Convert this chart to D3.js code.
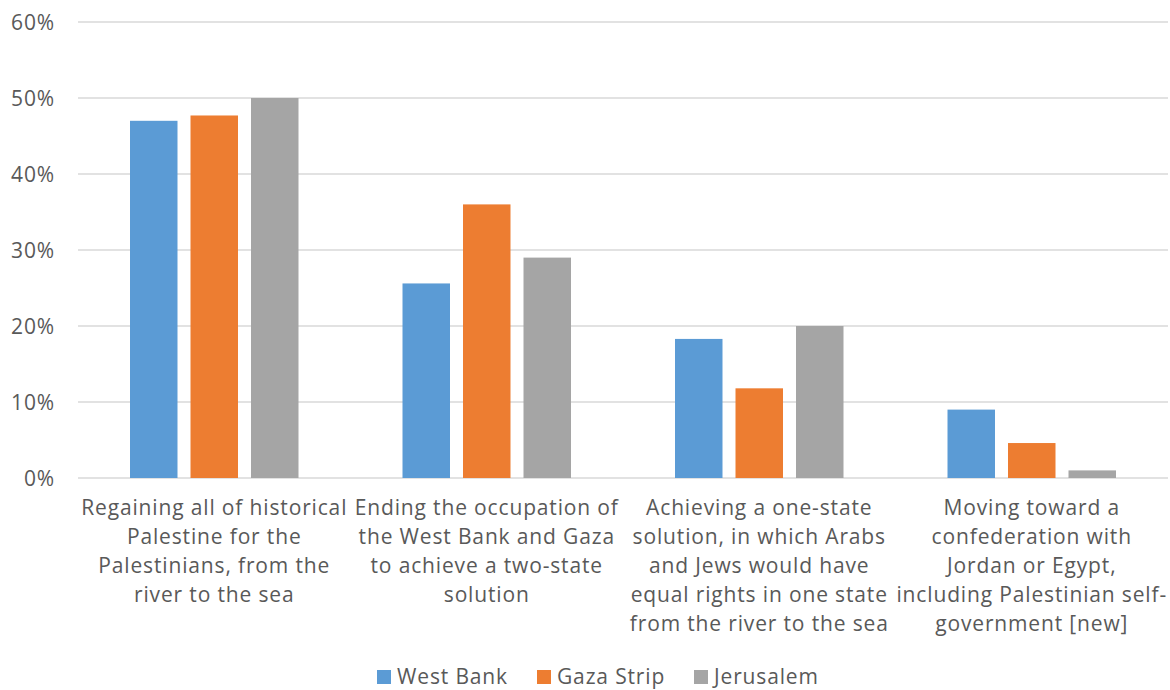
<!DOCTYPE html>
<html><head><meta charset="utf-8">
<script src="https://cdn.jsdelivr.net/npm/d3@7"></script>
<style>body{margin:0;background:#fff}svg{display:block}text{font-family:"Open Sans",Lato,sans-serif;fill:#595959}</style>
</head><body><svg id="c" width="1170" height="690"></svg>
<script>
const categories = ["c1","c2","c3","c4"];
const categoryLabels = [
  ["Regaining all of historical","Palestine for the","Palestinians, from the","river to the sea"],
  ["Ending the occupation of","the West Bank and Gaza","to achieve a two-state","solution"],
  ["Achieving a one-state","solution, in which Arabs","and Jews would have","equal rights in one state","from the river to the sea"],
  ["Moving toward a","confederation with","Jordan or Egypt,","including Palestinian self-","government [new]"]
];
const seriesNames = ["West Bank","Gaza Strip","Jerusalem"];
const westBank = [47.0, 25.6, 18.3, 9.0];
const gazaStrip = [47.7, 36.0, 11.8, 4.6];
const jerusalem = [50.0, 29.0, 20.0, 1.0];
const yTicks = [0,10,20,30,40,50,60];
const colors = ["#5B9BD5","#ED7D31","#A5A5A5"];

const seriesValues = [westBank, gazaStrip, jerusalem];
const svg = d3.select("#c");
const pL = 78, pR = 1168, pT = 22, pB = 478;
const fs = 21, ls = 0.85;
const x0 = d3.scaleBand().domain(categories).range([pL,pR]).padding(0);
const bw = x0.bandwidth();
const groupW = 181.5;
const x1 = d3.scaleBand().domain(seriesNames).range([bw/2-groupW/2, bw/2+groupW/2]).paddingInner(0.215).paddingOuter(0.1075);
const y = d3.scaleLinear().domain([0,60]).range([pB,pT]);

// gridlines
svg.append("g").selectAll("line").data(yTicks).join("line")
  .attr("x1",pL).attr("x2",pR).attr("y1",d=>y(d)).attr("y2",d=>y(d))
  .attr("stroke","#D9D9D9").attr("stroke-width",1.5);

// y axis labels
const yAxis = d3.axisLeft(y).tickValues(yTicks).tickFormat(d=>d+"%").tickSize(0).tickPadding(0);
const ya = svg.append("g").attr("transform",`translate(55,0)`).call(yAxis);
ya.select(".domain").remove();
ya.selectAll("text").attr("font-size",fs).attr("fill","#595959").attr("letter-spacing",ls)
  .style("font-family","'Open Sans', sans-serif").attr("dy","0.35em");

// bars
categories.forEach((c,i)=>{
  const g = svg.append("g").attr("transform",`translate(${x0(c)},0)`);
  g.selectAll("rect").data(seriesNames.map((s,j)=>({s, v:seriesValues[j][i], j}))).join("rect")
    .attr("x",d=>x1(d.s)).attr("width",x1.bandwidth())
    .attr("y",d=>y(d.v)).attr("height",d=>y(0)-y(d.v))
    .attr("fill",d=>colors[d.j]);
});

// category labels
categories.forEach((c,i)=>{
  const t = svg.append("text").attr("text-anchor","middle").attr("font-size",fs).attr("letter-spacing",ls)
    .attr("x",x0(c)+bw/2).attr("y",515);
  categoryLabels[i].forEach((line,k)=>{
    t.append("tspan").attr("x",x0(c)+bw/2).attr("y",515+k*29).text(line);
  });
});

// legend
const legendX = [377, 537, 694];
const lg = svg.append("g");
seriesNames.forEach((s,j)=>{
  lg.append("rect").attr("x",legendX[j]).attr("y",670).attr("width",14).attr("height",14).attr("fill",colors[j]);
  lg.append("text").attr("x",legendX[j]+20).attr("y",684).attr("font-size",fs).attr("letter-spacing",ls).text(s);
});
</script></body></html>
